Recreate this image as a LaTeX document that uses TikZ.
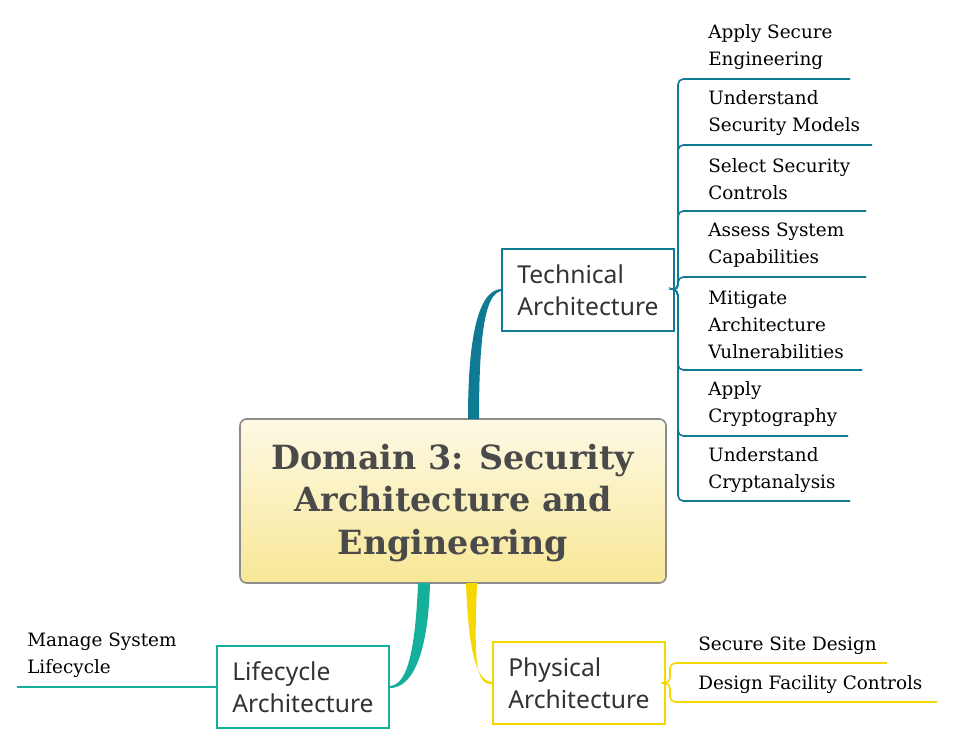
\documentclass[tikz,border=0pt]{standalone}
\usepackage{fontspec}
\newfontfamily\leaffont{DejaVu Serif}
\newfontfamily\titlefont{DejaVu Serif}
\newfontfamily\branchfont{Noto Sans}
\definecolor{techc}{HTML}{0E7A93}
\definecolor{lifec}{HTML}{14B09B}
\definecolor{physc}{HTML}{F5D800}
\definecolor{txt}{HTML}{333333}
\definecolor{ttl}{HTML}{4A4A4A}
\definecolor{ctop}{HTML}{FDF9E4}
\definecolor{cbot}{HTML}{F8E796}
\begin{document}
\begin{tikzpicture}[x=0.75pt,y=-0.75pt,
  leaf/.style={anchor=west,align=left,font=\leaffont\fontsize{13.8}{20}\selectfont,text=black,inner sep=0pt},
  branch/.style={draw,line width=1.5pt,minimum width=129pt,minimum height=61.5pt,inner sep=0pt},
  btext/.style={anchor=west,align=left,font=\branchfont\fontsize{18.5}{24}\selectfont,text=txt,inner sep=0pt},
  spine/.style={line width=1.2pt,rounded corners=4pt}]
\useasboundingbox (0,0) rectangle (955,745);
% central
\node[draw=gray!90,line width=1.2pt,rounded corners=5pt,top color=ctop,bottom color=cbot,
  minimum width=319.5pt,minimum height=123pt] (c) at (453,501) {};
\node[font=\titlefont\bfseries\fontsize{25}{32}\selectfont,text=ttl,align=center] (ct) at (453,503) {Domain 3: Security\\Architecture and\\Engineering};
% technical
\node[branch,draw=techc] (t) at (588,289.5) {};
\node[btext] (tt) at (517,290) {Technical\\Architecture};
\fill[techc] (468,419) .. controls (468,330) and (480,289) .. (502,289) -- (502,291) .. controls (486,292) and (479,330) .. (479,419) -- cycle;
% lifecycle
\node[branch,draw=lifec] (l) at (303,687) {};
\node[btext] (lt) at (232,687) {Lifecycle\\Architecture};
\fill[lifec] (418,583) .. controls (415,660) and (405,686) .. (389,686) -- (389,688) .. controls (410,689) and (428,660) .. (430,583) -- cycle;
% physical
\node[branch,draw=physc] (p) at (579,683) {};
\node[btext] (pt) at (508,683) {Physical\\Architecture};
\fill[physc] (466,583) .. controls (469,660) and (478,682) .. (493,682) -- (493,684) .. controls (475,686) and (474,660) .. (477,583) -- cycle;
% technical leaves
\coordinate (tj) at (678,290);
\foreach \y/\xe/\ty/\txt in {79/850/47/{Apply Secure\\Engineering},145/872/113/{Understand\\Security Models},211/866/179/{Select Security\\Controls},277/866/245/{Assess System\\Capabilities},370/862/325/{Mitigate\\Architecture\\Vulnerabilities},436/848/404/{Apply\\Cryptography},501/850/470/{Understand\\Cryptanalysis}}{
  \draw[spine,techc] (t.east) -- (tj) -- (678,\y) -- (\xe,\y);
  \node[leaf] at (708,\ty) {\txt};
}
% lifecycle leaf
\draw[line width=1.2pt,lifec] (l.west) -- (17,687);
\node[leaf] (ll) at (27,655) {Manage System\\Lifecycle};
% physical leaves
\coordinate (pj) at (670,683);
\draw[spine,physc] (p.east) -- (pj) -- (670,663) -- (887,663);
\draw[spine,physc] (p.east) -- (pj) -- (670,702) -- (937,702);
\node[leaf] (p1) at (698,646) {Secure Site Design};
\node[leaf] (p2) at (698,685) {Design Facility Controls};
\end{tikzpicture}
\end{document}
